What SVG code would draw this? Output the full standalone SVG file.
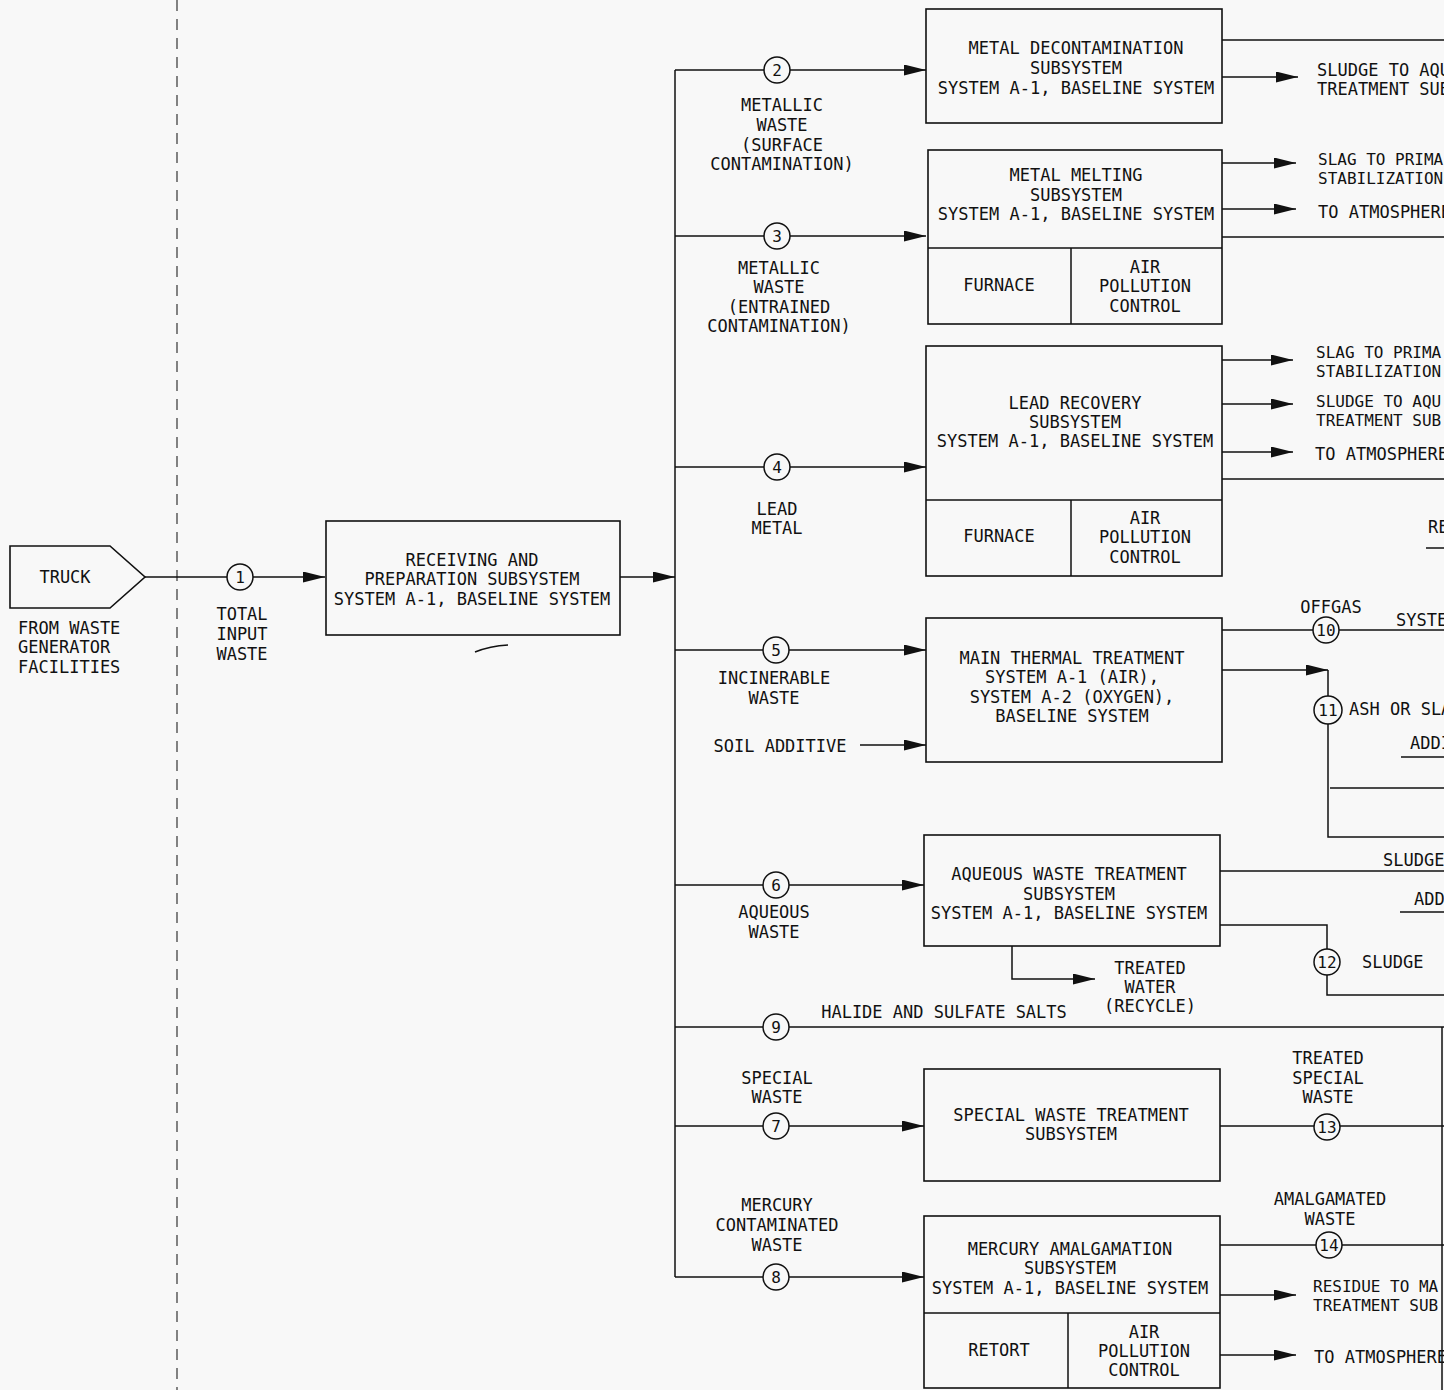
<svg xmlns="http://www.w3.org/2000/svg" width="1444" height="1390" viewBox="0 0 1444 1390">
<defs>
<marker id="arr" markerUnits="userSpaceOnUse" markerWidth="22" markerHeight="11" refX="22" refY="5.5" orient="auto"><path d="M0,0 L22,5.5 L0,11 z" fill="#111"/></marker>
<style>
text{font-family:"DejaVu Sans Mono","Liberation Mono",monospace;font-size:17px;fill:#111;dominant-baseline:central}
.c{text-anchor:middle}
.n{font-size:16px}
.s{font-size:16px}
rect,.box{fill:none;stroke:#111;stroke-width:1.6}
.ln{fill:none;stroke:#111;stroke-width:1.5}
.ar{fill:none;stroke:#111;stroke-width:1.5;marker-end:url(#arr)}
circle{fill:#f8f8f8;stroke:#111;stroke-width:1.5}
</style>
</defs>
<rect x="0" y="0" width="1444" height="1390" style="fill:#f8f8f8;stroke:none"/>
<line x1="177" y1="0" x2="177" y2="1390" stroke="#222" stroke-width="1.1" stroke-dasharray="11,8"/>

<g id="connectors">
<path class="ar" d="M145,577 H325"/>
<path class="ar" d="M620,577 H675"/>
<path class="ln" d="M675,70 V1277"/>
<path class="ar" d="M675,70 H926"/>
<path class="ar" d="M675,236 H926"/>
<path class="ar" d="M675,467 H926"/>
<path class="ar" d="M675,650 H926"/>
<path class="ar" d="M860,745 H926"/>
<path class="ar" d="M675,885 H924"/>
<path class="ln" d="M675,1027 H1444"/>
<path class="ar" d="M675,1126 H924"/>
<path class="ar" d="M675,1277 H924"/>
<path class="ln" d="M1222,40 H1444"/>
<path class="ar" d="M1222,77 H1298"/>
<path class="ar" d="M1222,163 H1296"/>
<path class="ar" d="M1222,209 H1296"/>
<path class="ln" d="M1222,237 H1444"/>
<path class="ar" d="M1222,360 H1293"/>
<path class="ar" d="M1222,404 H1293"/>
<path class="ar" d="M1222,452 H1293"/>
<path class="ln" d="M1222,479 H1444"/>
<path class="ln" d="M1426,548 H1444"/>
<path class="ln" d="M1222,630 H1444"/>
<path class="ar" d="M1222,670 H1328"/>
<path class="ln" d="M1328,670 V837 H1444"/>
<path class="ln" d="M1330,788 H1444"/>
<path class="ln" d="M1401,757 H1444"/>
<path class="ln" d="M1220,871 H1444"/>
<path class="ln" d="M1400,912 H1444"/>
<path class="ln" d="M1220,925 H1327 V995 H1444"/>
<path class="ar" d="M1012,946 V979 H1095"/>
<path class="ln" d="M1220,1126 H1444"/>
<path class="ln" d="M1220,1245 H1444"/>
<path class="ar" d="M1220,1295 H1296"/>
<path class="ar" d="M1220,1355 H1296"/>
<path class="ln" d="M1442,1027 V1390"/>
<path class="ln" d="M475,652 Q490,646 508,645" stroke-width="1.2"/>
</g>

<g id="truck">
<path class="box" d="M10,546 H110 L145,577 L110,608 H10 Z"/>
<text class="c" x="65" y="577">TRUCK</text>
<text x="18" y="628">FROM WASTE</text>
<text x="18" y="647">GENERATOR</text>
<text x="18" y="667">FACILITIES</text>
</g>

<g id="s1"><circle cx="240" cy="577" r="13"/><text class="c n" x="240" y="577">1</text>
<text class="c" x="242" y="614">TOTAL</text><text class="c" x="242" y="634">INPUT</text><text class="c" x="242" y="654">WASTE</text></g>

<g id="receiving">
<rect x="326" y="521" width="294" height="114"/>
<text class="c" x="472" y="560">RECEIVING AND</text>
<text class="c" x="472" y="579">PREPARATION SUBSYSTEM</text>
<text class="c" x="472" y="599">SYSTEM A-1, BASELINE SYSTEM</text>
</g>

<g id="s2"><circle cx="777" cy="70" r="13"/><text class="c n" x="777" y="70">2</text>
<text class="c" x="782" y="105">METALLIC</text><text class="c" x="782" y="125">WASTE</text><text class="c" x="782" y="145">(SURFACE</text><text class="c" x="782" y="164">CONTAMINATION)</text></g>
<g id="s3"><circle cx="777" cy="236" r="13"/><text class="c n" x="777" y="236">3</text>
<text class="c" x="779" y="268">METALLIC</text><text class="c" x="779" y="287">WASTE</text><text class="c" x="779" y="307">(ENTRAINED</text><text class="c" x="779" y="326">CONTAMINATION)</text></g>
<g id="s4"><circle cx="777" cy="467" r="13"/><text class="c n" x="777" y="467">4</text>
<text class="c" x="777" y="509">LEAD</text><text class="c" x="777" y="528">METAL</text></g>
<g id="s5"><circle cx="776" cy="650" r="13"/><text class="c n" x="776" y="650">5</text>
<text class="c" x="774" y="678">INCINERABLE</text><text class="c" x="774" y="698">WASTE</text>
<text class="c" x="780" y="746">SOIL ADDITIVE</text></g>
<g id="s6"><circle cx="776" cy="885" r="13"/><text class="c n" x="776" y="885">6</text>
<text class="c" x="774" y="912">AQUEOUS</text><text class="c" x="774" y="932">WASTE</text></g>
<g id="s9"><circle cx="776" cy="1027" r="13"/><text class="c n" x="776" y="1027">9</text>
<text class="c" x="944" y="1012">HALIDE AND SULFATE SALTS</text></g>
<g id="s7"><circle cx="776" cy="1126" r="13"/><text class="c n" x="776" y="1126">7</text>
<text class="c" x="777" y="1078">SPECIAL</text><text class="c" x="777" y="1097">WASTE</text></g>
<g id="s8"><circle cx="776" cy="1277" r="13"/><text class="c n" x="776" y="1277">8</text>
<text class="c" x="777" y="1205">MERCURY</text><text class="c" x="777" y="1225">CONTAMINATED</text><text class="c" x="777" y="1245">WASTE</text></g>

<g id="metal-decon">
<rect x="926" y="9" width="296" height="114"/>
<text class="c" x="1076" y="48">METAL DECONTAMINATION</text>
<text class="c" x="1076" y="68">SUBSYSTEM</text>
<text class="c" x="1076" y="88">SYSTEM A-1, BASELINE SYSTEM</text>
<text x="1317" y="70">SLUDGE TO AQU</text>
<text x="1317" y="89">TREATMENT SUB</text>
</g>

<g id="metal-melting">
<rect x="928" y="150" width="294" height="174"/>
<line class="ln" x1="928" y1="248" x2="1222" y2="248"/>
<line class="ln" x1="1071" y1="248" x2="1071" y2="324"/>
<text class="c" x="1076" y="175">METAL MELTING</text>
<text class="c" x="1076" y="195">SUBSYSTEM</text>
<text class="c" x="1076" y="214">SYSTEM A-1, BASELINE SYSTEM</text>
<text class="c" x="999" y="285">FURNACE</text>
<text class="c" x="1145" y="267">AIR</text><text class="c" x="1145" y="286">POLLUTION</text><text class="c" x="1145" y="306">CONTROL</text>
<text class="s" x="1318" y="159">SLAG TO PRIMA</text>
<text class="s" x="1318" y="178">STABILIZATION</text>
<text x="1318" y="212">TO ATMOSPHERE</text>
</g>

<g id="lead-recovery">
<rect x="926" y="346" width="296" height="230"/>
<line class="ln" x1="926" y1="500" x2="1222" y2="500"/>
<line class="ln" x1="1071" y1="500" x2="1071" y2="576"/>
<text class="c" x="1075" y="403">LEAD RECOVERY</text>
<text class="c" x="1075" y="422">SUBSYSTEM</text>
<text class="c" x="1075" y="441">SYSTEM A-1, BASELINE SYSTEM</text>
<text class="c" x="999" y="536">FURNACE</text>
<text class="c" x="1145" y="518">AIR</text><text class="c" x="1145" y="537">POLLUTION</text><text class="c" x="1145" y="557">CONTROL</text>
<text class="s" x="1316" y="352">SLAG TO PRIMA</text>
<text class="s" x="1316" y="371">STABILIZATION</text>
<text class="s" x="1316" y="401">SLUDGE TO AQU</text>
<text class="s" x="1316" y="420">TREATMENT SUB</text>
<text x="1315" y="454">TO ATMOSPHERE</text>
<text x="1428" y="527">RE</text>
</g>

<g id="main-thermal">
<rect x="926" y="618" width="296" height="144"/>
<text class="c" x="1072" y="658">MAIN THERMAL TREATMENT</text>
<text class="c" x="1072" y="677">SYSTEM A-1 (AIR),</text>
<text class="c" x="1072" y="697">SYSTEM A-2 (OXYGEN),</text>
<text class="c" x="1072" y="716">BASELINE SYSTEM</text>
<circle cx="1326" cy="630" r="13"/><text class="c n" x="1326" y="630">10</text>
<text class="c" x="1331" y="607">OFFGAS</text>
<text x="1396" y="620">SYSTE</text>
<circle cx="1328" cy="710" r="14"/><text class="c n" x="1328" y="710">11</text>
<text x="1349" y="709">ASH OR SLA</text>
<text x="1410" y="743">ADDI</text>
</g>

<g id="aqueous">
<rect x="924" y="835" width="296" height="111"/>
<text class="c" x="1069" y="874">AQUEOUS WASTE TREATMENT</text>
<text class="c" x="1069" y="894">SUBSYSTEM</text>
<text class="c" x="1069" y="913">SYSTEM A-1, BASELINE SYSTEM</text>
<text class="c" x="1150" y="968">TREATED</text><text class="c" x="1150" y="987">WATER</text><text class="c" x="1150" y="1006">(RECYCLE)</text>
<text x="1383" y="860">SLUDGE</text>
<text x="1414" y="899">ADD</text>
<circle cx="1327" cy="962" r="13"/><text class="c n" x="1327" y="962">12</text>
<text x="1362" y="962">SLUDGE</text>
</g>

<g id="special">
<rect x="924" y="1069" width="296" height="112"/>
<text class="c" x="1071" y="1115">SPECIAL WASTE TREATMENT</text>
<text class="c" x="1071" y="1134">SUBSYSTEM</text>
<circle cx="1327" cy="1127" r="13"/><text class="c n" x="1327" y="1127">13</text>
<text class="c" x="1328" y="1058">TREATED</text><text class="c" x="1328" y="1078">SPECIAL</text><text class="c" x="1328" y="1097">WASTE</text>
</g>

<g id="mercury">
<rect x="924" y="1216" width="296" height="172"/>
<line class="ln" x1="924" y1="1313" x2="1220" y2="1313"/>
<line class="ln" x1="1068" y1="1313" x2="1068" y2="1388"/>
<text class="c" x="1070" y="1249">MERCURY AMALGAMATION</text>
<text class="c" x="1070" y="1268">SUBSYSTEM</text>
<text class="c" x="1070" y="1288">SYSTEM A-1, BASELINE SYSTEM</text>
<text class="c" x="999" y="1350">RETORT</text>
<text class="c" x="1144" y="1332">AIR</text><text class="c" x="1144" y="1351">POLLUTION</text><text class="c" x="1144" y="1370">CONTROL</text>
<circle cx="1329" cy="1245" r="13"/><text class="c n" x="1329" y="1245">14</text>
<text class="c" x="1330" y="1199">AMALGAMATED</text><text class="c" x="1330" y="1219">WASTE</text>
<text class="s" x="1313" y="1286">RESIDUE TO MA</text>
<text class="s" x="1313" y="1305">TREATMENT SUB</text>
<text x="1314" y="1357">TO ATMOSPHERE</text>
</g>
</svg>
